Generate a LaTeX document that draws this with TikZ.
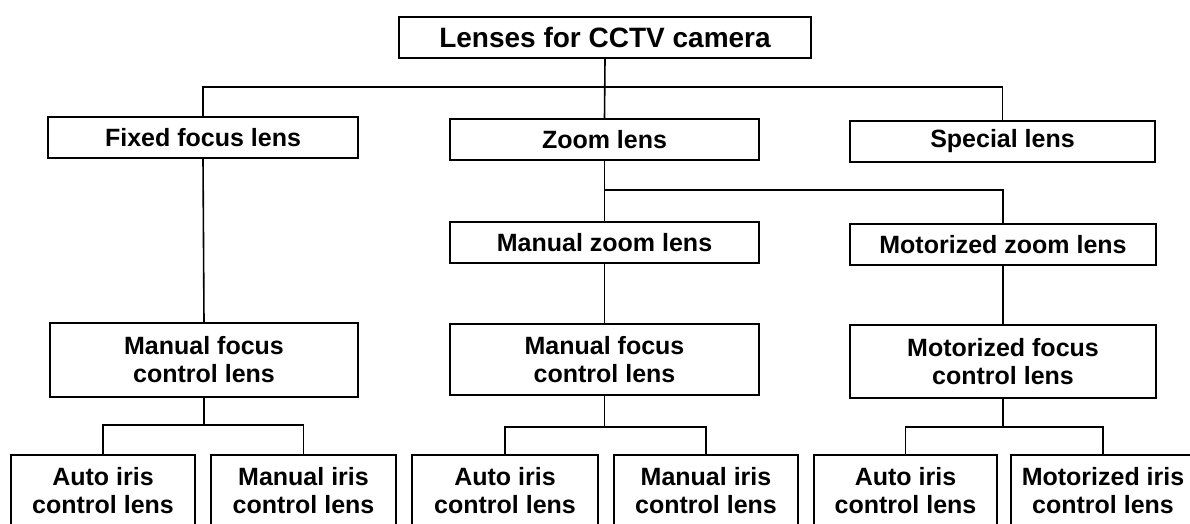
\documentclass[tikz,border=0pt]{standalone}
\usepackage{fontspec}
\setmainfont{Liberation Sans}
\begin{document}
\begin{tikzpicture}[x=1pt,y=-1pt,
  box/.style={draw, line width=1.6pt, inner sep=0pt, align=center,
    font=\bfseries\fontsize{25}{28}\selectfont},
  conn/.style={line width=1.6pt}]
\useasboundingbox (0,0) rectangle (1190,523);
\clip (0,0) rectangle (1190,523);
% level 0
\node[box, minimum width=412pt, minimum height=41pt, font=\bfseries\fontsize{28}{30}\selectfont] (top) at (605,37.5) {Lenses for CCTV camera};
% level 1
\node[box, minimum width=310pt, minimum height=41pt] (fixed) at (203,137.5) {Fixed focus lens};
\node[box, minimum width=309pt, minimum height=41pt] (zoom) at (604.5,139.5) {Zoom lens};
\node[box, minimum width=305pt, minimum height=41pt] (special) at (1002.5,141.5) {Special lens};
% level 2
\node[box, minimum width=309pt, minimum height=41pt] (mzoom) at (604.5,242.5) {Manual zoom lens};
\node[box, minimum width=306pt, minimum height=41pt] (motzoom) at (1003,244.5) {Motorized zoom lens};
% level 3
\node[box, minimum width=308pt, minimum height=74pt] (mf1) at (204,360) {Manual focus\\control lens};
\node[box, minimum width=309pt, minimum height=71pt] (mf2) at (604.5,359.5) {Manual focus\\control lens};
\node[box, minimum width=306pt, minimum height=73pt] (motf) at (1003,361.5) {Motorized focus\\control lens};
% level 4
\node[box, minimum width=184pt, minimum height=72pt] (b1) at (103,491) {Auto iris\\control lens};
\node[box, minimum width=185pt, minimum height=72pt] (b2) at (303.5,491) {Manual iris\\control lens};
\node[box, minimum width=186pt, minimum height=72pt] (b3) at (505,491) {Auto iris\\control lens};
\node[box, minimum width=184pt, minimum height=72pt] (b4) at (706,491) {Manual iris\\control lens};
\node[box, minimum width=183pt, minimum height=72pt] (b5) at (905.5,491) {Auto iris\\control lens};
\node[box, minimum width=184pt, minimum height=72pt] (b6) at (1103,491) {Motorized iris\\control lens};
% junction coordinates
\coordinate (j0) at (605,87);
\coordinate (j1) at (605,190);
\coordinate (j2) at (204,425);
\coordinate (j3) at (604.5,427);
\coordinate (j4) at (1003,427);
% connectors
\draw[conn] (top.south) -- (zoom.north);
\draw[conn] (fixed.north) -- (fixed.north |- j0) -- (special.north |- j0) -- (special.north);
\draw[conn] (zoom.south) -- (mzoom.north);
\draw[conn] (zoom.south |- j1) -- (motzoom.north |- j1) -- (motzoom.north);
\draw[conn] (fixed.south) -- (mf1.north);
\draw[conn] (mzoom.south) -- (mf2.north);
\draw[conn] (motzoom.south) -- (motf.north);
\draw[conn] (mf1.south) -- (j2);
\draw[conn] (b1.north) -- (b1.north |- j2) -- (b2.north |- j2) -- (b2.north);
\draw[conn] (mf2.south) -- (j3);
\draw[conn] (b3.north) -- (b3.north |- j3) -- (b4.north |- j3) -- (b4.north);
\draw[conn] (motf.south) -- (j4);
\draw[conn] (b5.north) -- (b5.north |- j4) -- (b6.north |- j4) -- (b6.north);
\end{tikzpicture}
\end{document}
